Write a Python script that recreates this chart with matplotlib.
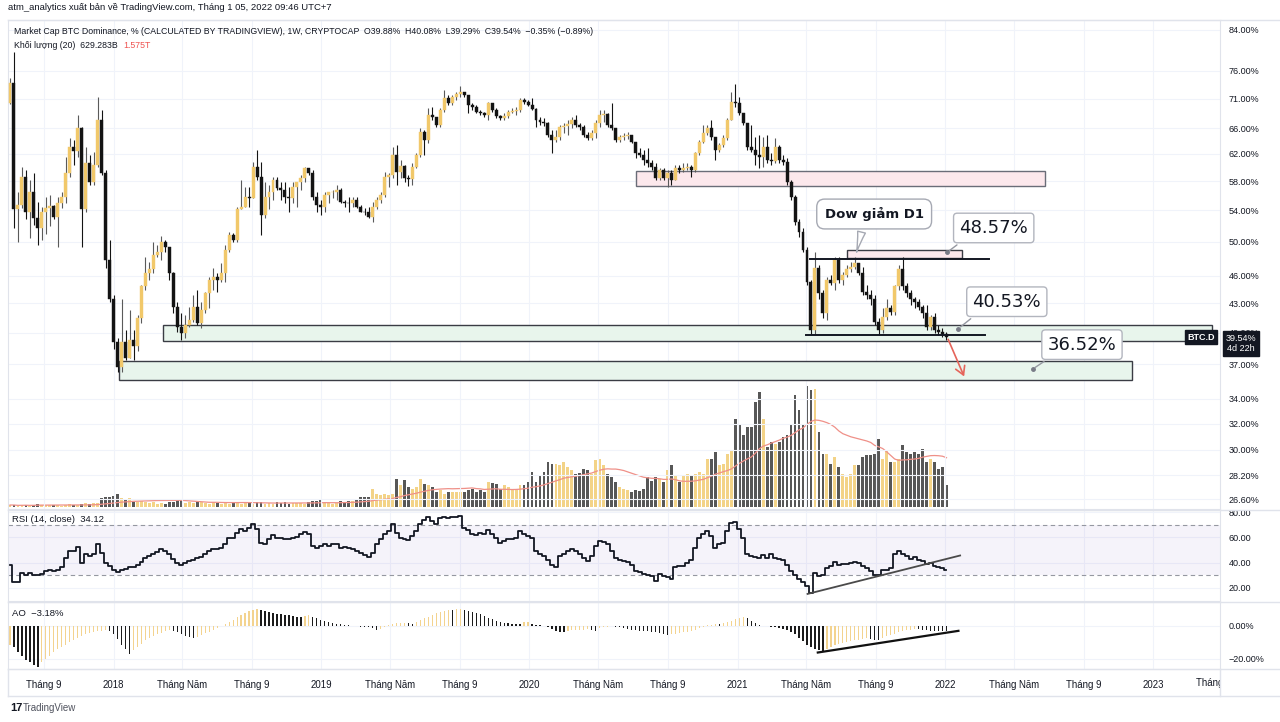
import numpy as np
import pandas as pd
import matplotlib
matplotlib.use("Agg")
import matplotlib.pyplot as plt
import matplotlib.dates as mdates
from matplotlib.patches import Rectangle
from matplotlib.lines import Line2D
from matplotlib.ticker import NullLocator, NullFormatter
from matplotlib.transforms import Bbox, blended_transform_factory

plt.rcParams['font.family'] = ['Liberation Sans', 'DejaVu Sans']

# weekly BTC dominance (%), first week starts 2017-07-03
first_week = '2017-07-03'
first_open = 70.2
closes = [73.8, 54.1, 54.7, 58.6, 53.8, 56.4, 53.0, 51.7, 53.7, 54.3,
          54.6, 53.1, 55.0, 55.8, 59.2, 63.1, 62.5, 66.1, 54.1, 60.6,
          57.8, 60.4, 67.4, 59.2, 47.8, 43.4, 39.1, 36.8, 39.1, 37.6,
          39.3, 38.7, 41.5, 44.8, 46.3, 46.7, 48.4, 48.8, 49.9, 49.3,
          46.3, 42.6, 40.6, 40.0, 40.8, 41.3, 42.6, 41.0, 42.3, 44.1,
          45.5, 45.9, 45.5, 46.3, 49.0, 50.85, 50.2, 54.1, 54.4, 55.8,
          55.7, 60.1, 58.6, 53.4, 55.8, 56.4, 58.2, 57.0, 56.8, 55.8,
          55.7, 57.2, 57.8, 58.5, 59.9, 59.2, 55.8, 54.7, 54.4, 56.1,
          56.4, 56.5, 56.8, 55.1, 55.0, 54.9, 55.4, 54.4, 53.8, 53.7,
          53.1, 54.4, 55.4, 56.1, 58.6, 58.9, 61.9, 59.3, 60.2, 58.5,
          58.3, 60.1, 61.9, 65.4, 64.2, 68.2, 67.9, 66.6, 69.1, 71.1,
          70.2, 71.3, 71.8, 72.2, 71.6, 69.9, 69.6, 68.7, 68.5, 68.2,
          70.2, 69.1, 68.0, 67.7, 68.0, 68.7, 68.9, 69.1, 70.8, 70.4,
          69.9, 69.2, 67.4, 67.0, 66.9, 65.0, 64.2, 64.6, 66.2, 66.4,
          66.7, 67.4, 66.6, 66.2, 65.0, 64.5, 65.3, 66.9, 68.2, 68.4,
          66.6, 66.1, 64.2, 64.6, 64.8, 65.0, 63.9, 62.2, 61.9, 61.1,
          60.6, 60.1, 58.5, 59.6, 58.5, 59.2, 58.2, 59.9, 59.6, 59.9,
          60.1, 59.6, 62.2, 63.9, 65.3, 66.1, 64.6, 62.6, 63.4, 64.5,
          67.4, 70.4, 70.2, 68.5, 66.9, 63.1, 62.6, 61.9, 61.6, 63.0,
          61.1, 60.9, 63.1, 61.1, 60.8, 57.9, 55.8, 52.4, 51.2, 49.0,
          45.3, 40.3, 46.9, 44.1, 42.0, 45.5, 45.2, 47.8, 45.5, 46.1,
          46.8, 47.0, 47.4, 46.3, 44.2, 43.9, 43.4, 41.1, 40.3, 41.6,
          42.5, 42.1, 44.8, 46.7, 44.8, 44.1, 43.4, 43.1, 42.6, 42.0,
          40.6, 41.6, 40.3, 40.1, 39.88, 39.54]
highs = [74.7, 79.6, 56.4, 60.1, 59.6, 58.2, 59.2, 55.1, 54.4, 55.8,
         56.1, 54.7, 55.8, 56.4, 61.6, 64.5, 64.2, 68.2, 66.2, 63.1,
         61.9, 62.3, 71.3, 69.1, 59.6, 50.2, 43.9, 39.5, 43.4, 40.3,
         42.3, 40.3, 41.8, 45.0, 48.1, 47.6, 50.0, 49.6, 50.7, 50.2,
         49.4, 46.4, 43.1, 42.0, 41.8, 42.6, 43.9, 44.4, 43.1, 44.2,
         45.8, 46.9, 46.3, 47.5, 49.6, 51.2, 51.1, 54.4, 58.2, 57.2,
         57.2, 60.8, 62.6, 60.8, 57.8, 57.5, 58.6, 58.6, 57.8, 57.9,
         57.2, 57.8, 57.9, 58.9, 60.1, 59.9, 59.6, 56.4, 55.4, 56.5,
         56.5, 56.8, 57.5, 57.0, 55.4, 55.8, 55.8, 55.8, 54.7, 54.3,
         54.4, 55.1, 55.8, 56.5, 59.3, 59.2, 63.1, 63.4, 61.1, 60.4,
         58.9, 60.7, 62.2, 66.1, 65.8, 69.4, 69.6, 67.9, 69.4, 72.5,
         71.6, 71.6, 72.2, 73.2, 72.2, 71.3, 70.2, 69.9, 69.1, 68.7,
         70.4, 70.2, 69.4, 68.2, 68.5, 69.1, 69.4, 69.6, 71.1, 71.1,
         70.8, 71.1, 69.4, 67.9, 67.7, 67.0, 65.8, 65.8, 66.6, 66.9,
         67.4, 67.9, 68.2, 66.9, 66.6, 65.4, 65.8, 67.4, 69.1, 69.1,
         68.5, 70.2, 65.0, 65.0, 65.3, 65.4, 65.0, 63.9, 62.9, 62.6,
         62.9, 61.1, 60.6, 59.9, 59.9, 59.6, 59.6, 60.4, 60.4, 60.6,
         60.6, 60.4, 62.3, 64.2, 66.6, 66.6, 67.4, 64.6, 63.7, 65.0,
         67.7, 72.2, 73.6, 71.3, 68.5, 66.9, 66.6, 64.6, 65.0, 64.6,
         65.0, 62.2, 64.5, 63.4, 61.9, 61.4, 58.2, 56.1, 52.8, 51.7,
         49.3, 45.5, 48.7, 47.2, 44.4, 45.8, 46.1, 48.1, 48.1, 46.4,
         47.2, 47.6, 48.1, 47.5, 47.0, 45.0, 44.4, 43.9, 41.5, 42.5,
         43.4, 42.8, 45.0, 47.2, 48.1, 45.2, 44.4, 43.6, 43.4, 42.8,
         42.8, 41.8, 42.0, 40.8, 40.5, 40.08]
lows = [70.1, 51.7, 49.9, 54.3, 52.8, 50.5, 52.1, 49.6, 50.2, 50.9,
        51.9, 52.8, 49.3, 54.3, 55.0, 58.6, 60.4, 61.6, 49.3, 53.8,
        57.5, 57.5, 60.1, 58.9, 46.9, 43.1, 38.4, 36.3, 36.3, 37.4,
        37.6, 37.4, 38.2, 41.0, 44.4, 45.5, 46.3, 48.1, 47.8, 48.8,
        45.5, 42.0, 40.1, 39.3, 39.5, 40.6, 41.1, 40.8, 40.5, 42.0,
        42.5, 44.4, 44.2, 45.3, 45.3, 48.7, 49.9, 50.0, 54.1, 54.4,
        54.4, 55.7, 58.2, 50.85, 53.0, 54.1, 55.4, 56.8, 55.4, 55.0,
        53.8, 55.0, 54.4, 56.8, 57.9, 58.9, 55.4, 53.7, 53.4, 53.8,
        55.0, 55.7, 55.4, 55.0, 54.4, 53.8, 54.4, 54.3, 53.7, 53.4,
        53.0, 52.4, 54.1, 55.0, 55.8, 57.2, 58.5, 57.5, 58.5, 57.9,
        57.3, 57.5, 59.9, 61.6, 61.9, 63.7, 67.4, 66.2, 66.2, 68.7,
        69.9, 69.9, 70.8, 71.3, 71.3, 68.5, 69.1, 68.5, 68.2, 67.9,
        67.4, 68.7, 67.7, 67.4, 67.4, 67.7, 68.5, 68.2, 68.7, 70.1,
        69.7, 69.1, 66.2, 66.6, 66.4, 64.6, 62.2, 63.9, 64.2, 65.3,
        65.0, 66.1, 66.2, 65.8, 64.6, 64.2, 64.2, 64.5, 66.2, 67.0,
        66.2, 65.8, 63.9, 63.9, 64.2, 64.3, 63.7, 61.4, 61.6, 60.4,
        60.1, 59.6, 58.2, 58.2, 58.2, 57.2, 57.5, 58.2, 59.2, 59.3,
        59.6, 58.6, 59.3, 61.9, 63.7, 65.0, 64.2, 61.1, 62.3, 63.1,
        64.2, 67.4, 69.6, 68.2, 66.6, 62.6, 62.3, 60.4, 59.9, 60.1,
        60.6, 60.4, 60.6, 60.6, 60.4, 57.5, 55.4, 52.1, 50.6, 48.7,
        45.0, 39.9, 39.9, 43.4, 41.5, 41.3, 45.0, 44.4, 45.2, 45.0,
        45.8, 46.4, 46.7, 46.1, 43.9, 43.4, 42.8, 40.8, 39.8, 40.0,
        41.3, 41.8, 41.8, 44.4, 44.4, 43.6, 42.8, 42.5, 42.3, 41.5,
        40.3, 40.3, 40.0, 39.8, 39.6, 39.29]
# volume in billions USD
volumes_b = [57, 57, 29, 57, 57, 29, 57, 86, 57, 57,
             57, 57, 57, 29, 57, 86, 57, 57, 86, 114,
             86, 114, 114, 257, 286, 286, 315, 372, 257, 229,
             257, 143, 143, 172, 143, 114, 143, 86, 114, 86,
             143, 143, 200, 229, 114, 143, 114, 143, 143, 114,
             86, 143, 114, 86, 114, 86, 143, 114, 86, 114,
             143, 86, 143, 143, 86, 114, 86, 143, 114, 143,
             86, 114, 114, 114, 86, 143, 172, 172, 200, 114,
             114, 86, 114, 172, 143, 172, 172, 229, 286, 286,
             286, 515, 372, 343, 372, 343, 372, 801, 629, 772,
             572, 515, 572, 801, 658, 629, 572, 429, 486, 372,
             429, 429, 429, 429, 429, 486, 515, 429, 486, 429,
             715, 686, 658, 515, 629, 572, 486, 486, 629, 629,
             715, 1001, 715, 915, 1001, 1287, 1230, 1230, 1201, 1287,
             1144, 1058, 944, 972, 1087, 1058, 944, 1344, 1373, 1201,
             944, 858, 715, 572, 515, 486, 429, 486, 458, 515,
             858, 744, 858, 801, 715, 1058, 1201, 915, 715, 915,
             944, 915, 944, 1001, 944, 1373, 1373, 1573, 1201, 1230,
             1516, 1630, 2517, 2345, 2059, 2288, 2288, 3003, 3289, 2517,
             1716, 1859, 1802, 1859, 2002, 2059, 2345, 3203, 2774, 2345,
             3489, 3346, 3375, 2145, 1516, 1516, 1230, 1430, 1144, 944,
             858, 944, 1201, 1201, 1430, 1487, 1487, 1516, 1945, 1373,
             1630, 1287, 1287, 1373, 1773, 1573, 1516, 1573, 1516, 1659,
             1287, 1373, 1287, 1087, 1144, 629]
rsi_values = [38.4, 24.3, 24.3, 31.7, 30.4, 31.7, 29.9, 30.4, 30.9, 33.1,
              33.9, 33.1, 34.4, 36.3, 43.7, 49.1, 49.1, 52.3, 39.7, 46.4,
              45.1, 46.9, 54.4, 47.7, 39.7, 37.1, 34.4, 32.5, 34.4, 35.2,
              36.3, 36.3, 37.9, 40.5, 43.7, 45.1, 46.9, 48.5, 50.4, 49.1,
              46.4, 43.2, 39.7, 38.4, 39.7, 41.1, 42.4, 43.7, 44.5, 46.4,
              49.1, 50.9, 50.9, 51.7, 54.4, 59.7, 59.7, 63.7, 66.4, 65.1,
              67.7, 70.9, 66.4, 55.7, 54.9, 58.4, 61.6, 59.7, 59.2, 58.4,
              58.4, 59.7, 60.5, 62.4, 64.3, 62.4, 53.1, 51.7, 53.1, 54.4,
              53.1, 54.9, 54.4, 51.7, 52.3, 51.7, 50.9, 49.1, 47.7, 45.9,
              44.5, 47.7, 54.4, 58.4, 62.9, 65.1, 70.4, 63.7, 59.7, 58.4,
              57.6, 61.1, 65.1, 70.4, 73.6, 75.7, 73.1, 70.9, 74.9, 76.3,
              75.2, 75.7, 76.3, 76.8, 67.7, 65.6, 62.9, 61.9, 63.7, 62.4,
              65.6, 62.4, 59.7, 55.7, 57.1, 58.4, 58.4, 59.2, 65.1, 62.4,
              61.1, 59.7, 49.1, 46.4, 45.1, 42.4, 38.4, 36.3, 45.1, 46.9,
              49.1, 50.4, 49.1, 46.4, 43.7, 41.6, 45.1, 53.1, 57.1, 56.5,
              54.4, 49.1, 43.7, 42.4, 41.6, 40.5, 38.4, 33.6, 32.3, 30.9,
              29.9, 29.1, 25.1, 30.9, 29.1, 28.3, 27.2, 36.3, 37.1, 37.1,
              39.7, 42.4, 51.7, 59.7, 62.4, 65.1, 61.1, 51.7, 54.4, 55.7,
              65.1, 71.7, 72.5, 66.4, 59.7, 46.4, 45.1, 44.5, 43.7, 45.9,
              43.7, 46.9, 43.7, 43.2, 42.4, 38.0, 33.0, 30.4, 27.2, 24.5,
              21.1, 15.7, 31.7, 29.1, 30.4, 35.7, 37.1, 40.5, 38.4, 38.9,
              38.9, 39.7, 40.5, 39.7, 37.1, 35.7, 33.6, 30.4, 29.9, 34.4,
              34.4, 35.7, 46.9, 49.1, 46.9, 45.1, 43.2, 44.3, 42.4, 41.6,
              38.9, 39.7, 37.1, 36.3, 35.7, 34.12]
ao_values = [-11.9, -12.9, -16.0, -18.5, -20.6, -22.3, -24.0, -25.0, -22.3, -20.2,
             -18.1, -16.0, -14.4, -12.9, -11.5, -9.8, -8.5, -7.3, -6.0, -5.2,
             -4.6, -4.0, -3.3, -2.9, -2.5, -3.1, -5.2, -8.1, -11.5, -14.4,
             -17.1, -15.0, -12.9, -10.8, -8.8, -7.3, -6.0, -5.0, -4.2, -3.1,
             -2.5, -2.9, -4.0, -5.2, -6.3, -7.1, -7.7, -6.9, -5.6, -4.6,
             -3.5, -2.3, -1.5, -0.4, 1.0, 2.3, 3.5, 5.0, 6.5, 7.7,
             8.8, 9.6, 10.0, 9.6, 9.0, 8.3, 7.7, 7.3, 6.9, 6.5,
             6.3, 5.8, 5.6, 5.4, 5.8, 6.3, 5.2, 4.4, 3.5, 2.7,
             2.1, 1.7, 1.3, 0.8, 0.4, 0.2, -0.2, -0.4, -0.6, -0.8,
             -1.0, -1.5, -2.3, -1.7, -0.8, 0.2, 1.0, 1.5, 1.7, 1.9,
             1.5, 1.0, 2.3, 3.3, 4.4, 5.6, 6.7, 7.5, 8.3, 9.0,
             9.4, 9.3, 10.0, 10.2, 9.8, 9.0, 8.3, 7.9, 6.9, 5.8,
             4.8, 3.8, 2.7, 2.3, 1.7, 1.5, 1.3, 1.0, 0.8, 2.0,
             2.2, 1.0, 0.6, 0.2, -0.4, -1.0, -1.9, -3.1, -3.5, -4.0,
             -3.1, -2.7, -2.5, -2.4, -2.3, -2.2, -2.5, -2.9, -1.5, -1.0,
             -0.6, -0.4, -0.6, -1.0, -1.5, -1.9, -2.3, -2.7, -2.9, -3.1,
             -3.3, -3.5, -4.0, -4.4, -4.8, -5.6, -5.2, -4.8, -4.4, -4.0,
             -3.5, -2.9, -2.3, -1.5, -0.6, 0.2, 0.6, 1.3, 1.0, 1.7,
             2.3, 3.1, 4.0, 4.8, 5.4, 4.8, 3.1, 1.7, 0.6, 0.0,
             -0.4, -0.6, -1.0, -1.5, -1.9, -2.5, -3.5, -5.2, -7.3, -9.4,
             -11.5, -12.9, -14.0, -15.0, -15.6, -14.0, -12.9, -11.9, -11.0, -10.2,
             -9.8, -9.4, -8.8, -8.5, -8.1, -7.7, -8.1, -8.8, -8.9, -7.3,
             -6.5, -5.6, -4.8, -4.0, -3.1, -2.7, -2.3, -2.1, -2.2, -2.5,
             -2.7, -2.9, -3.0, -3.05, -3.1, -3.18]

price_ticks = [84, 76, 71, 66, 62, 58, 54, 50, 46, 43, 40, 37, 34, 32, 30, 28.2, 26.6]
tick_dates = ['2017-09-01', '2018-01-01', '2018-05-01', '2018-09-01', '2019-01-01',
              '2019-05-01', '2019-09-01', '2020-01-01', '2020-05-01', '2020-09-01',
              '2021-01-01', '2021-05-01', '2021-09-01', '2022-01-01', '2022-05-01',
              '2022-09-01', '2023-01-01']
tick_labels = ['Tháng 9', '2018', 'Tháng Năm', 'Tháng 9', '2019', 'Tháng Năm', 'Tháng 9',
               '2020', 'Tháng Năm', 'Tháng 9', '2021', 'Tháng Năm', 'Tháng 9', '2022',
               'Tháng Năm', 'Tháng 9', '2023']

YELLOW = '#f1c86a'
DARK = '#131313'
TXT = '#131722'
GRID = '#f0f3fa'
BORDER = '#e0e3eb'

W, H = 1280, 722


def box(x0, y0, x1, y1):
    return [x0 / W, 1 - y1 / H, (x1 - x0) / W, (y1 - y0) / H]


def d(s):
    return mdates.date2num(pd.Timestamp(s))


dates = pd.date_range(first_week, periods=len(closes), freq='7D')
x = mdates.date2num(dates.to_pydatetime())
c = np.array(closes)
o = np.r_[first_open, c[:-1]]
h = np.maximum(np.array(highs), np.maximum(o, c))
l = np.minimum(np.array(lows), np.minimum(o, c))
up = c >= o

fig = plt.figure(figsize=(12.8, 7.22), dpi=100)
fig.patch.set_facecolor('white')

axv = fig.add_axes(box(8, 20, 1220, 509))
ax = fig.add_axes(box(8, 20, 1220, 509), sharex=axv)
ax.patch.set_visible(False)
ax_rsi = fig.add_axes(box(8, 510, 1220, 601), sharex=axv)
ax_ao = fig.add_axes(box(8, 602, 1220, 669), sharex=axv)

# volume + MA(20) behind the candles
vol = np.array(volumes_b, dtype=float)
axv.bar(x, vol, width=5.0, color=np.where(up, '#f3d387', '#575757'), lw=0)
vol_ma = pd.Series(vol).rolling(20, min_periods=1).mean()
axv.plot(x, vol_ma, color='#ef9088', lw=0.9)
axv.set_ylim(-57, 13985)
axv.axis('off')

# candles
ax.vlines(x, l, h, colors=np.where(up, '#5a5a5a', DARK), lw=0.8, zorder=3)
ax.bar(x[up], (c - o)[up], bottom=o[up], width=5.2, color=YELLOW,
       edgecolor=YELLOW, lw=0.3, zorder=4)
ax.bar(x[~up], (o - c)[~up], bottom=c[~up], width=5.2, color=DARK,
       edgecolor=DARK, lw=0.3, zorder=4)

ax.set_yscale('log')
ax.set_ylim(25.96, 86.08)
ax.set_yticks(price_ticks)
ax.set_yticklabels([f'{v:.2f}%' for v in price_ticks])
ax.yaxis.set_minor_locator(NullLocator())
ax.yaxis.set_minor_formatter(NullFormatter())
ax.set_xlim(d('2017-06-29 12:00'), d('2023-04-28 12:00'))

# zones and drawings
zones = [('2020-07-07', '2022-06-25', 57.33, 59.47, '#fce8ec', '#6a6d78'),
         ('2018-03-29', '2023-04-14', 39.2, 40.75, '#e8f5ec', '#3a3c44'),
         ('2018-01-10', '2022-11-25', 35.6, 37.3, '#e8f5ec', '#3a3c44'),
         ('2021-07-12', '2022-01-31', 48.0, 49.0, '#fce8ec', '#3a3c44')]
for d0, d1, v0, v1, fc, ec in zones:
    ax.add_patch(Rectangle((d(d0), v0), d(d1) - d(d0), v1 - v0, fc=fc, ec=ec,
                           lw=1, zorder=1))

ax.plot([d('2021-05-08'), d('2022-03-19')], [47.95, 47.95], color=TXT, lw=1.4, zorder=5)
ax.plot([d('2021-05-02'), d('2022-03-12')], [39.8, 39.8], color=TXT, lw=1.4, zorder=5)

ax.annotate('', xy=(d('2022-02-05'), 35.7), xytext=(d('2022-01-04'), 39.6),
            arrowprops=dict(arrowstyle='->,head_length=0.6,head_width=0.35',
                            color='#e5645a', lw=1.2), zorder=6)

ax.annotate('Dow giảm D1', xy=(d('2021-07-28'), 48.4), xytext=(d('2021-08-29'), 53.5),
            ha='center', va='center', fontsize=9.5, fontweight='bold', color=TXT,
            family='DejaVu Sans',
            bbox=dict(boxstyle='round,pad=0.6,rounding_size=0.6', fc='white',
                      ec='#a6a9b3', lw=1),
            arrowprops=dict(arrowstyle='wedge,tail_width=0.6,shrink_factor=0.4',
                            fc='white', ec='#a6a9b3', lw=1, relpos=(0.4, 0)),
            zorder=7)

callouts = [('48.57%', '2022-01-04', 48.7, '2022-03-27', 51.7),
            ('40.53%', '2022-01-24', 40.4, '2022-04-19', 43.15),
            ('36.52%', '2022-06-04', 36.6, '2022-08-29', 38.84)]
for label, pd_, pv, td, tv in callouts:
    ax.annotate(label, xy=(d(pd_), pv), xytext=(d(td), tv), ha='center', va='center',
                fontsize=13, color=TXT, family='DejaVu Sans',
                bbox=dict(boxstyle='round,pad=0.32,rounding_size=0.2', fc='white',
                          ec='#b2b5be', lw=1),
                arrowprops=dict(arrowstyle='-', color='#9598a1', lw=1, relpos=(0.12, 0)),
                zorder=7)
    ax.plot(d(pd_), pv, 'o', ms=2.5, color='#787b86', zorder=8)

# RSI pane
ax_rsi.axhspan(30, 70, color='#7e57c2', alpha=0.07, lw=0)
ax_rsi.axhline(70, color='#9598a1', lw=0.8, ls=(0, (4, 3)))
ax_rsi.axhline(30, color='#9598a1', lw=0.8, ls=(0, (4, 3)))
ax_rsi.step(x, rsi_values, where='mid', color=TXT, lw=1.3)
ax_rsi.plot([d('2021-05-04'), d('2022-01-27')], [15.2, 45.6], color='#4a4a4a', lw=1.3)
ax_rsi.set_ylim(9.6, 81.6)
ax_rsi.set_yticks([80, 60, 40, 20])
ax_rsi.set_yticklabels(['80.00', '60.00', '40.00', '20.00'])

# AO pane
ao = np.array(ao_values)
rising = np.r_[True, ao[1:] >= ao[:-1]]
ax_ao.bar(x, ao, width=2.2, color=np.where(rising, '#f3d38f', '#1b1b1b'), lw=0)
ax_ao.plot([d('2021-05-22'), d('2022-01-24')], [-16.25, -3.1], color='#111111', lw=1.6)
ax_ao.set_ylim(-26.25, 14.4)
ax_ao.set_yticks([0, -20])
ax_ao.set_yticklabels(['0.00%', '\u221220.00%'])

ax_ao.set_xticks([d(s) for s in tick_dates])
ax_ao.set_xticklabels(tick_labels)

for a in (ax, ax_rsi, ax_ao):
    a.yaxis.tick_right()
    a.tick_params(axis='y', length=0, pad=6, labelsize=6.5, labelcolor=TXT)
    a.tick_params(axis='x', length=0, labelsize=6.9, labelcolor=TXT, pad=8)
    a.grid(True, color=GRID, lw=0.8)
    a.set_axisbelow(True)
    for s in a.spines.values():
        s.set_color(BORDER)
ax.tick_params(axis='x', labelbottom=False)
ax_rsi.tick_params(axis='x', labelbottom=False)

t = ax_ao.text(d('2023-05-01'), -0.21, 'Tháng Năm', fontsize=6.9, color=TXT,
               ha='center', va='center',
               transform=blended_transform_factory(ax_ao.transData, ax_ao.transAxes))
t.set_clip_box(Bbox.from_extents(0, 0, 1221, 722))
t.set_clip_on(True)

# frame lines
for y in (20, 509.5, 601.5, 669, 696):
    fig.add_artist(Line2D([8 / W, 1280 / W], [1 - y / H] * 2, color=BORDER, lw=1))
for xx in (8, 1220):
    fig.add_artist(Line2D([xx / W] * 2, [1 - 669 / H, 1 - 696 / H], color=BORDER, lw=1))

# texts
fig.text(8 / W, 1 - 7 / H, 'atm_analytics xuất bản về TradingView.com, Tháng 1 05, 2022 09:46 UTC+7',
         fontsize=6.8, color=TXT, va='center')
fig.text(14 / W, 1 - 32 / H,
         'Market Cap BTC Dominance, % (CALCULATED BY TRADINGVIEW), 1W, CRYPTOCAP  '
         'O39.88%  H40.08%  L39.29%  C39.54%  \u22120.35% (\u22120.89%)',
         fontsize=6.35, color=TXT, va='center')
vt = fig.text(14 / W, 1 - 46 / H, 'Khối lượng (20)  629.283B', fontsize=6.35, color=TXT,
              va='center')
ax.annotate('1.575T', xy=(1, 0.5), xycoords=vt, xytext=(4, 0), textcoords='offset points',
            va='center', fontsize=6.35, color='#ef5350', annotation_clip=False)
fig.text(12 / W, 1 - 520 / H, 'RSI (14, close)  34.12', fontsize=6.8, color=TXT, va='center')
fig.text(12 / W, 1 - 614 / H, 'AO  \u22123.18%', fontsize=6.8, color=TXT, va='center')

fig.text(1201 / W, 1 - 337 / H, 'BTC.D', fontsize=6.5, fontweight='bold', color='white',
         ha='center', va='center',
         bbox=dict(boxstyle='square,pad=0.3', fc='#131722', ec='#131722'))
fig.text(1241 / W, 1 - 343.5 / H, '39.54%\n4d 22h', fontsize=6.5, color='white',
         ha='center', va='center', linespacing=1.15,
         bbox=dict(boxstyle='square,pad=0.35', fc='#131722', ec='#131722'))

fig.text(10 / W, 1 - 708 / H, '17', fontsize=8, fontweight='bold', color=TXT, va='center')
fig.text(23 / W, 1 - 708 / H, 'TradingView', fontsize=7, color='#50535e', va='center')

fig.savefig('out.png', dpi=100)
